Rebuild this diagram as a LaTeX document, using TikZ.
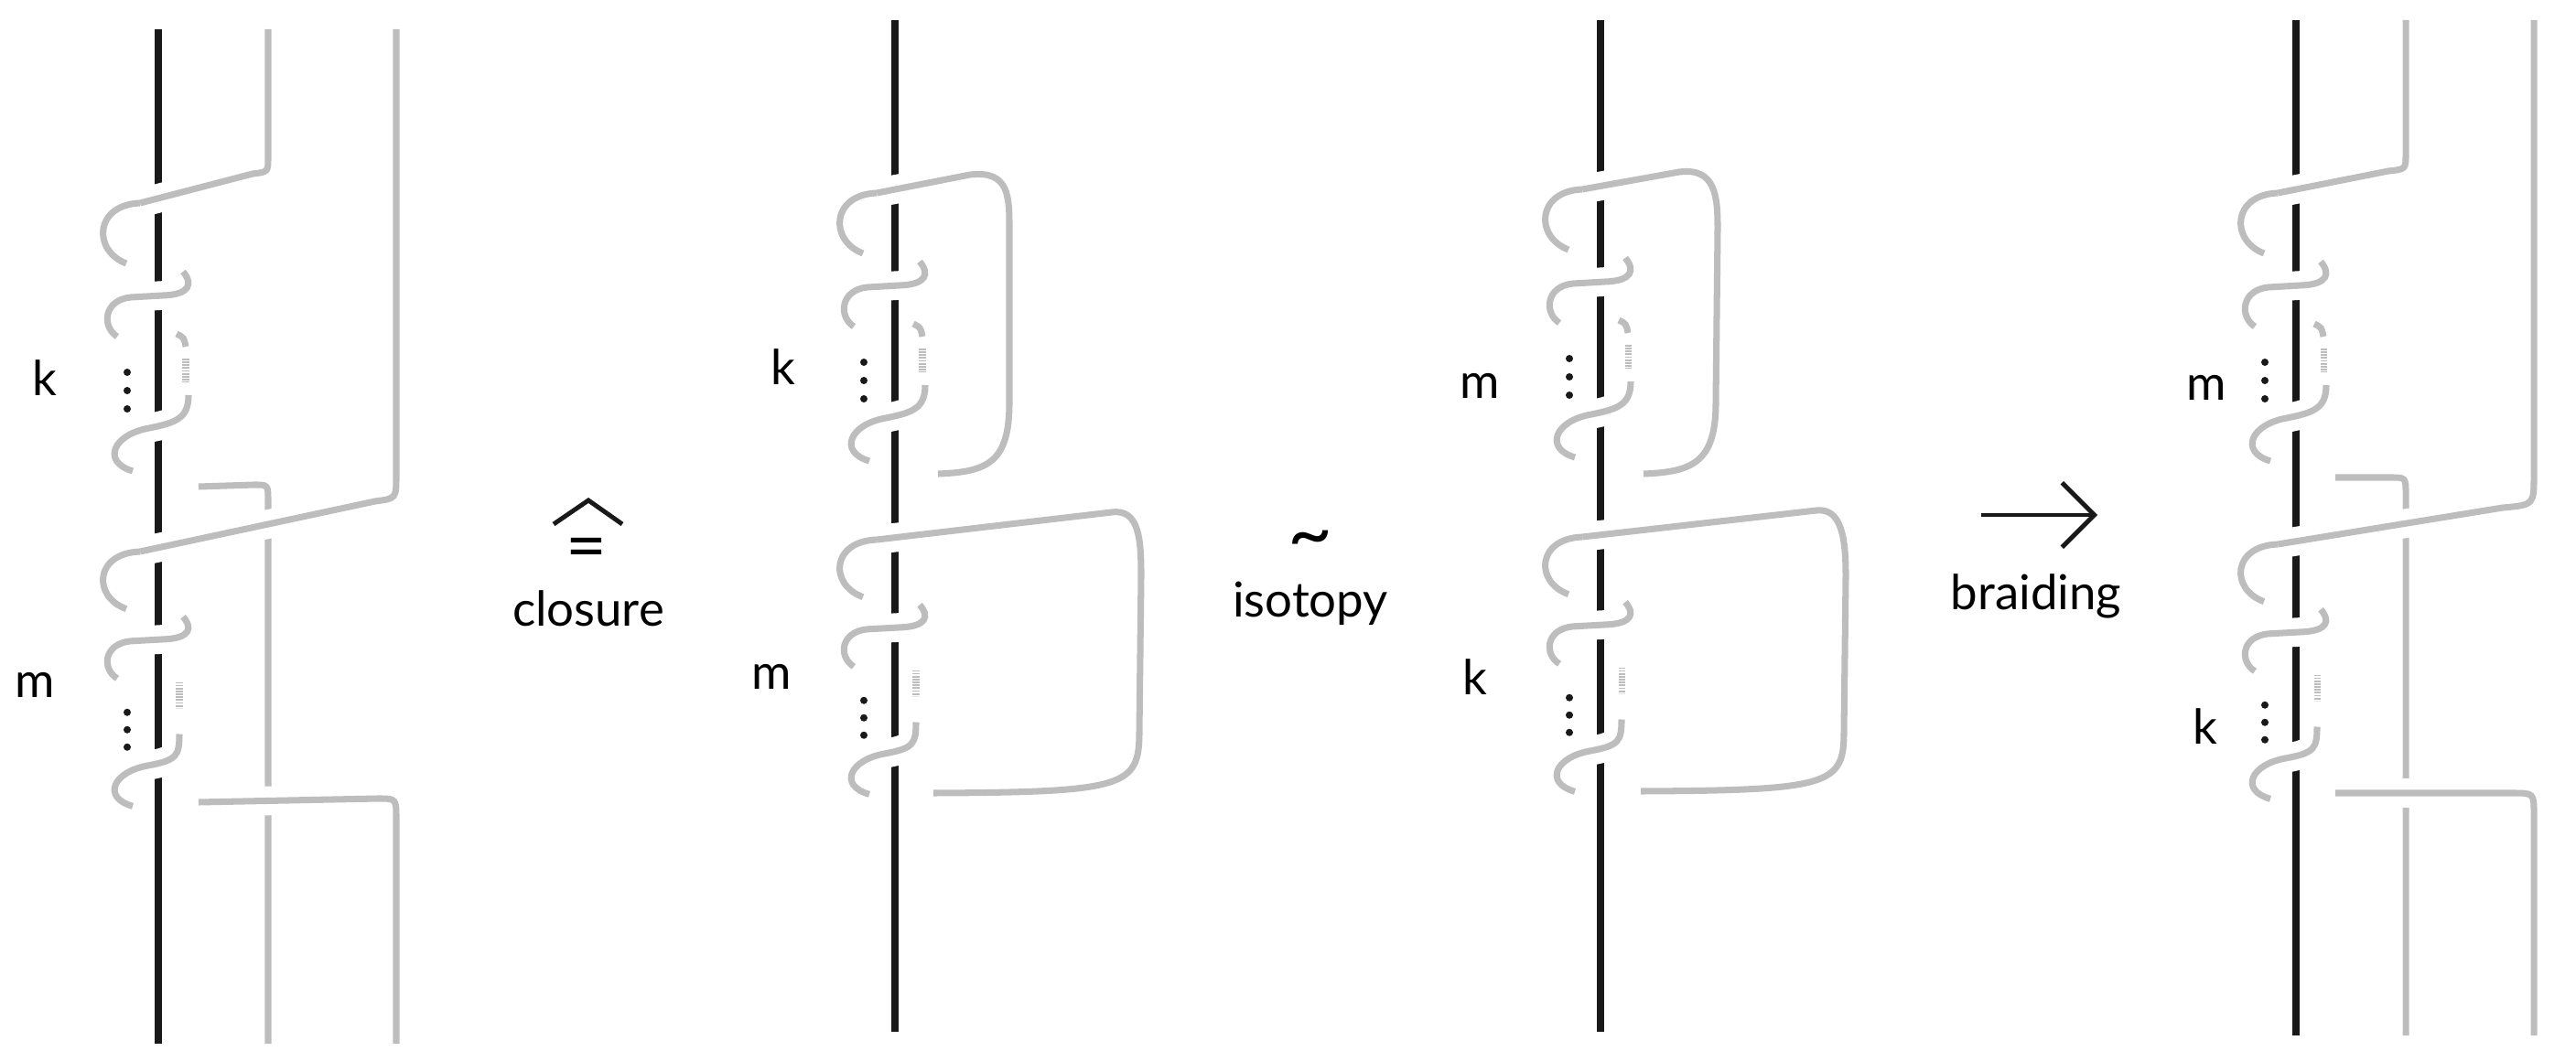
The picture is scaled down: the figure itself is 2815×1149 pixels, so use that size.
\documentclass[tikz,border=0pt]{standalone}
\usepackage{fontspec}
\setmainfont{Lato}
\usetikzlibrary{arrows.meta}
\definecolor{gr}{HTML}{BDBDBD}
\tikzset{
  blk/.style={draw=black!90,line width=2.3pt},
  gs/.style={draw=gr,line width=2pt,preaction={draw=white,line width=9pt}},
  gp/.style={draw=gr,line width=2pt},
  dotted gray/.style={draw=gr,line width=2pt,dash pattern=on 0.5pt off 0.4pt},
  lbl/.style={font=\fontsize{15}{18}\selectfont,inner sep=0pt},
}
\newcommand\twist[5]{%
  \draw[gs] ({#1-20},{#2}) .. controls ({#1-70},{#2+2*#3}) and ({#1-72},{#2+52*#3}) .. ({#1-35},{#2+66*#3});
  \draw[gs] ({#1+27},{#2+75*#3}) .. controls ({#1+38},{#2+88*#3}) and ({#1+35},{#2+100*#3}) .. ({#1+5},{#2+101*#3}) -- ({#1-30},{#2+103*#3}) .. controls ({#1-60},{#2+106*#3}) and ({#1-62},{#2+135*#3}) .. ({#1-45},{#2+146*#3});
  \ifnum#5=1
    \draw[gp] ({#1+20},{#2+143*#3}) .. controls ({#1+28},{#2+147*#3}) .. ({#1+30},{#2+157*#3});
    \draw[dotted gray] ({#1+30},{#2+170*#3}) -- ({#1+30},{#2+196*#3});
  \else
    \draw[dotted gray] ({#1+#4},{#2+150*#3}) -- ({#1+#4},{#2+180*#3});
  \fi
  \draw[gs] ({#1+#4},{#2+210*#3}) .. controls ({#1+#4},{#2+235*#3}) and ({#1+20},{#2+240*#3}) .. ({#1-10},{#2+246*#3}) .. controls ({#1-50},{#2+253*#3}) and ({#1-62},{#2+283*#3}) .. ({#1-28},{#2+293*#3});
  \foreach \d in {185,205,225} \fill[black!90] ({#1-34},{#2+\d*#3}) circle (4);
}
\begin{document}
\begin{tikzpicture}[x=0.01cm,y=-0.01cm]
\useasboundingbox (0,0) rectangle (2815,1149);
% ---------- panel 1
\draw[blk] (173,32) -- (173,1141);
\draw[gp] (217,532) -- (278,530) .. controls (293,530) .. (293,548) -- (293,1141);
\draw[gs] (293,32) -- (293,172) .. controls (293,188) .. (276,190) -- (153,222);
\twist{173}{222}{1}{33}{1}
\draw[gs] (433,32) -- (433,520) .. controls (433,545) .. (410,548) -- (153,603);
\twist{173}{603}{0.95}{23}{0}
\draw[gs] (217,877) -- (413,873) .. controls (433,873) .. (433,895) -- (433,1141);
\node[lbl] (k1) at (49,413) {k};
\node[lbl] (m1) at (38,749) {m};
% ---------- closure
\draw[black!90,line width=1.4pt] (605,573) -- (643,547) -- (680,573);
\node[font=\fontsize{22}{22}\selectfont,inner sep=0pt] (eq) at (641,606) {=};
\node[lbl] (cl) at (643,665) {closure};
% ---------- panel 2
\draw[blk] (978,22) -- (978,1128);
\draw[gs] (958,211) -- (1060,191) .. controls (1103,186) and (1103,215) .. (1103,250) -- (1103,440) .. controls (1103,505) and (1080,516) .. (1025,518);
\twist{978}{211}{1}{33}{1}
\draw[gs] (958,590) -- (1215,560) .. controls (1245,556) and (1247,590) .. (1247,630) -- (1245,800) .. controls (1245,860) and (1230,866) .. (1020,867);
\twist{978}{590}{0.95}{23}{0}
\node[lbl] (k2) at (856,401) {k};
\node[lbl] (m2) at (843,740) {m};
% ---------- isotopy
\node[font=\fontsize{24}{24}\selectfont,inner sep=0pt] (tl) at (1432,612) {\smash{\textasciitilde}};
\node[lbl] (is) at (1432,660) {isotopy};
% ---------- panel 3
\draw[blk] (1749,22) -- (1749,1128);
\draw[gs] (1729,207) -- (1835,188) .. controls (1875,183) and (1877,215) .. (1877,250) -- (1875,440) .. controls (1875,505) and (1850,516) .. (1796,518);
\twist{1749}{207}{1}{33}{1}
\draw[gs] (1729,587) -- (1985,558) .. controls (2013,555) and (2017,590) .. (2017,630) -- (2015,800) .. controls (2015,858) and (2000,864) .. (1793,865);
\twist{1749}{587}{0.95}{23}{0}
\node[lbl] (m3) at (1617,422) {m};
\node[lbl] (k3) at (1612,740) {k};
% ---------- braiding
\draw[black!90,line width=1.4pt,-{Straight Barb[length=10pt,width=20pt,line width=1.4pt]}] (2165,563) -- (2292,563);
\node[lbl] (br) at (2225,652) {braiding};
% ---------- panel 4
\draw[blk] (2509,22) -- (2509,1132);
\draw[gp] (2552,522) -- (2612,522) .. controls (2629,522) .. (2629,540) -- (2629,1132);
\draw[gs] (2629,22) -- (2629,168) .. controls (2629,185) .. (2610,187) -- (2489,211);
\twist{2509}{211}{1}{33}{1}
\draw[gs] (2769,22) -- (2769,520) .. controls (2769,552) .. (2735,555) -- (2489,595);
\twist{2509}{595}{0.95}{23}{0}
\draw[gs] (2552,867) -- (2745,867) .. controls (2769,867) .. (2769,890) -- (2769,1132);
\node[lbl] (m4) at (2411,424) {m};
\node[lbl] (k4) at (2410,794) {k};
\end{tikzpicture}
\end{document}
